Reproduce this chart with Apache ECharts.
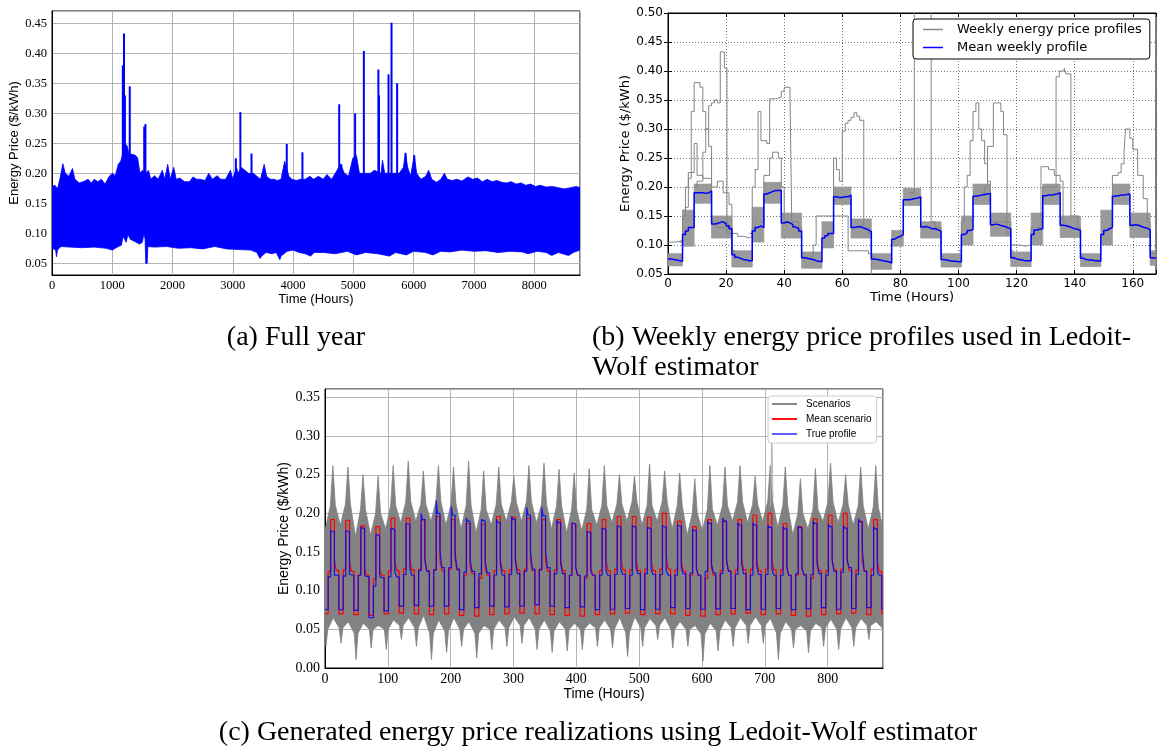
<!DOCTYPE html>
<html>
<head>
<meta charset="utf-8">
<script src="https://cdn.jsdelivr.net/npm/echarts@6/dist/echarts.min.js"></script>
<style>
  html, body { margin: 0; padding: 0; background: #ffffff; }
  #chart { width: 1167px; height: 748px; }
</style>
</head>
<body>
<div id="chart"></div>
<script>
// ---------------- (a) Full year of hourly prices ----------------
// Upper and lower edge of the hourly price band, [hour, $/kWh]
const fullYearUpper = [
  [0,0.178],[50,0.18],[90,0.174],[130,0.19],[180,0.216],[220,0.2],[280,0.195],[340,0.208],[380,0.19],
  [450,0.184],[520,0.186],[600,0.19],[650,0.184],[700,0.19],[760,0.186],[820,0.19],[880,0.182],[950,0.195],
  [1000,0.2],[1050,0.196],[1100,0.215],[1140,0.22],[1180,0.235],[1210,0.25],[1250,0.245],[1280,0.23],
  [1320,0.232],[1380,0.23],[1420,0.226],[1460,0.2],[1500,0.205],[1560,0.2],[1600,0.205],[1640,0.19],
  [1700,0.196],[1760,0.19],[1830,0.205],[1870,0.19],[1920,0.215],[1960,0.19],[2020,0.21],[2060,0.19],
  [2120,0.192],[2200,0.186],[2280,0.186],[2340,0.194],[2400,0.19],[2460,0.19],[2540,0.188],[2600,0.2],
  [2660,0.19],[2740,0.196],[2800,0.19],[2880,0.19],[2960,0.205],[3000,0.19],[3060,0.21],[3090,0.2],
  [3140,0.21],[3200,0.205],[3260,0.2],[3340,0.2],[3400,0.195],[3460,0.19],[3520,0.215],[3560,0.195],
  [3620,0.19],[3680,0.19],[3740,0.188],[3800,0.19],[3860,0.22],[3930,0.195],[3980,0.19],[4060,0.188],
  [4120,0.19],[4200,0.19],[4280,0.195],[4340,0.19],[4420,0.195],[4500,0.19],[4560,0.198],[4640,0.19],
  [4700,0.2],[4790,0.215],[4850,0.2],[4920,0.195],[4990,0.225],[5050,0.23],[5100,0.2],[5200,0.2],
  [5280,0.2],[5350,0.205],[5460,0.2],[5483,0.222],[5520,0.2],[5610,0.2],[5660,0.2],[5760,0.2],
  [5830,0.21],[5865,0.234],[5900,0.21],[5950,0.195],[6010,0.23],[6050,0.2],[6120,0.19],[6200,0.195],
  [6250,0.205],[6300,0.19],[6380,0.185],[6450,0.19],[6510,0.2],[6560,0.19],[6640,0.188],[6720,0.19],
  [6800,0.187],[6900,0.194],[6980,0.19],[7060,0.192],[7140,0.186],[7220,0.19],[7300,0.186],[7380,0.188],
  [7460,0.185],[7540,0.184],[7620,0.186],[7700,0.182],[7780,0.184],[7860,0.18],[7940,0.182],[8020,0.178],
  [8100,0.18],[8200,0.177],[8300,0.178],[8400,0.176],[8500,0.174],[8600,0.176],[8700,0.178],[8760,0.176]
];
const fullYearLower = [
  [0,0.075],[60,0.072],[75,0.061],[90,0.072],[150,0.078],[300,0.077],[500,0.076],[700,0.077],[900,0.075],
  [1000,0.072],[1100,0.078],[1150,0.08],[1180,0.095],[1230,0.085],[1260,0.098],[1300,0.09],[1380,0.086],
  [1450,0.082],[1500,0.085],[1525,0.1],[1545,0.09],[1555,0.05],[1580,0.05],[1590,0.078],[1700,0.077],
  [1900,0.078],[2100,0.075],[2300,0.076],[2500,0.074],[2700,0.078],[2900,0.074],[3100,0.073],[3300,0.072],
  [3400,0.068],[3450,0.058],[3480,0.062],[3550,0.068],[3650,0.066],[3720,0.068],[3780,0.056],[3800,0.062],
  [3900,0.07],[4000,0.072],[4100,0.068],[4200,0.066],[4290,0.062],[4350,0.068],[4500,0.068],[4700,0.066],
  [4900,0.07],[5050,0.064],[5200,0.068],[5400,0.066],[5600,0.062],[5700,0.068],[5880,0.064],[6000,0.07],
  [6200,0.068],[6320,0.064],[6450,0.07],[6600,0.069],[6800,0.072],[7000,0.07],[7200,0.071],[7400,0.068],
  [7600,0.07],[7800,0.069],[7900,0.066],[8050,0.07],[8200,0.068],[8290,0.063],[8400,0.068],[8570,0.063],
  [8650,0.068],[8760,0.072]
];
// Isolated price spikes, [hour, peak $/kWh]
const fullYearSpikes = [
  [1175,0.38],[1195,0.433],[1210,0.33],[1290,0.345],[1530,0.278],[1550,0.282],[3050,0.225],[3125,0.302],
  [3310,0.233],[3895,0.249],[4155,0.235],[4765,0.315],[4800,0.215],[5010,0.225],[5029,0.30],[5174,0.404],
  [5415,0.373],[5425,0.33],[5583,0.365],[5633,0.451],[5726,0.35],[5865,0.234],[6010,0.23]
];

// ---------------- (b) Weekly profiles ----------------
const weekEnd = 168;
// Start hour of each tariff-like block of the week
const weekBlockStarts = [0,5,9,15,22,29,33,39,46,53,57,63,70,77,81,87,94,101,105,111,118,125,129,135,142,149,153,159,166];
// Dense bundle of weekly profiles: lower / upper edge per block
const bundleLow  = [0.064,0.098,0.172,0.112,0.062,0.105,0.172,0.112,0.060,0.095,0.170,0.112,0.058,0.098,0.168,0.112,0.062,0.100,0.170,0.115,0.063,0.100,0.170,0.113,0.063,0.100,0.170,0.113,0.065];
const bundleHigh = [0.085,0.160,0.205,0.150,0.090,0.165,0.208,0.155,0.088,0.140,0.200,0.145,0.085,0.125,0.198,0.140,0.085,0.150,0.205,0.155,0.088,0.155,0.205,0.150,0.085,0.160,0.205,0.155,0.090];
// Mean weekly profile, hour 0..167
const meanWeeklyProfile = [
  0.076,0.075,0.074,0.073,0.072, 0.118,0.124,0.13,0.13, 0.19,0.19,0.19,0.189,0.19,0.193,
  0.136,0.137,0.139,0.14,0.137,0.133,0.128, 0.083,0.079,0.077,0.075,0.074,0.073,0.073,
  0.124,0.13,0.133,0.13, 0.188,0.19,0.192,0.194,0.194,0.194, 0.138,0.14,0.138,0.135,0.131,0.128,0.124,
  0.078,0.077,0.076,0.075,0.073,0.072,0.071,
  0.112,0.116,0.12,0.12, 0.183,0.182,0.182,0.183,0.183,0.186, 0.13,0.131,0.132,0.13,0.128,0.126,0.123,
  0.076,0.075,0.074,0.073,0.072,0.071,0.069,
  0.11,0.113,0.115,0.118, 0.178,0.178,0.179,0.18,0.181,0.183, 0.131,0.132,0.13,0.128,0.128,0.126,0.124,
  0.075,0.074,0.073,0.072,0.072,0.071,0.071,
  0.118,0.121,0.125,0.127, 0.184,0.185,0.186,0.187,0.188,0.189, 0.135,0.136,0.135,0.133,0.132,0.13,0.128,
  0.078,0.076,0.075,0.074,0.073,0.073,0.073,
  0.118,0.126,0.127,0.128, 0.185,0.186,0.186,0.187,0.188,0.19, 0.134,0.133,0.132,0.13,0.128,0.127,0.125,
  0.077,0.075,0.074,0.074,0.073,0.073,0.072,
  0.118,0.125,0.128,0.13, 0.184,0.185,0.186,0.186,0.187,0.188, 0.134,0.135,0.134,0.132,0.13,0.129,0.126,
  0.078,0.077
];
// Individual weeks that leave the bundle, [hour, $/kWh] held until the next point
const weeklyOutliers = [
  [[4,0.105],[5,0.15],[6,0.165],[7,0.215],[8,0.33],[9,0.38],[11,0.372],[12,0.33],[13,0.3],[14,0.27],[15,0.14],[17,0.13],[22,0.085],[23,0.085]],
  [[9,0.2],[10,0.21],[12,0.26],[13,0.3],[14,0.34],[15,0.345],[16,0.35],[17,0.345],[18,0.433],[19.4,0.405],[20.3,0.12],[22,0.09],[23,0.09]],
  [[5,0.16],[6,0.2],[7,0.225],[9,0.275],[10,0.22],[12,0.215],[15,0.2],[17,0.21],[19,0.19],[21,0.17],[22,0.09],[23,0.09]],
  [[0,0.105],[3,0.108],[5,0.12],[6,0.13]],
  [[21,0.13],[22,0.12],[24,0.115],[26,0.112],[28,0.115],[29,0.13],[30,0.14]],
  [[28,0.12],[29,0.2],[30,0.23],[31,0.33],[32,0.28],[34,0.275],[35,0.352],[37,0.355],[39,0.365],[40,0.372],[42,0.36],[42.6,0.14],[45,0.13],[46,0.08],[47,0.08]],
  [[32,0.14],[33,0.22],[35,0.25],[36,0.26],[38,0.25],[39,0.2],[40,0.14],[41,0.14]],
  [[55,0.12],[57,0.25],[58,0.23],[59,0.21],[60,0.296],[61,0.31],[62,0.315],[63,0.32],[64,0.328],[65,0.322],[66,0.315],[67.4,0.13],[69,0.12],[70,0.08],[71,0.08]],
  [[49,0.08],[50,0.1],[51,0.15],[62,0.09],[69,0.085],[70,0.04],[77,0.04]],
  [[83,0.19],[84.8,0.55],[90.6,0.14],[92,0.13],[94,0.08],[95,0.08]],
  [[100,0.09],[101,0.14],[102,0.2],[103,0.22],[104,0.28],[105,0.33],[106,0.345],[107,0.3],[108,0.28],[109,0.24],[110,0.21],[111,0.14],[118,0.08],[119,0.08]],
  [[108,0.19],[109,0.2],[110,0.27],[112,0.345],[114.6,0.33],[115.5,0.29],[116.7,0.12],[118,0.09],[119,0.09]],
  [[118,0.1],[119,0.1],[121,0.098],[123,0.1],[125,0.13],[126,0.13]],
  [[128,0.13],[129,0.2],[133.6,0.39],[134.7,0.4],[136.4,0.405],[137,0.395],[138.7,0.15],[141,0.13],[142,0.08],[143,0.08]],
  [[127,0.13],[128.4,0.235],[131,0.23],[133,0.22],[135,0.21],[136,0.14],[137,0.14]],
  [[152,0.13],[153,0.22],[155,0.225],[156,0.24],[157,0.26],[157.5,0.30],[159,0.284],[160,0.265],[161.7,0.22],[163.6,0.18],[165,0.14],[166,0.085],[168,0.085]]
];

// ---------------- (c) Generated realizations ----------------
const horizon = 888;
const dayCount = 37;
// Hour-of-day at which each block of a day starts: morning, peak, late peak, evening, late evening, night
const dayBlockHours = [5, 9, 11, 15, 18, 22];
// True price profile, block values per day
const blueFirstNight = 0.0755;
const blueMorning = [0.118,0.119,0.12,0.106,0.118,0.121,0.126,0.127,0.13,0.124,0.122,0.12,0.121,0.125,0.127,0.122,0.12,0.119,0.12,0.121,0.12,0.122,0.121,0.12,0.123,0.125,0.122,0.121,0.12,0.121,0.12,0.122,0.121,0.12,0.124,0.121,0.12];
const bluePeakA = [0.178,0.178,0.182,0.173,0.181,0.187,0.2,0.217,0.209,0.194,0.192,0.192,0.196,0.208,0.208,0.191,0.188,0.177,0.181,0.184,0.184,0.182,0.184,0.185,0.179,0.19,0.194,0.188,0.188,0.185,0.183,0.183,0.19,0.186,0.184,0.193,0.183];
const bluePeakB = [0.176,0.176,0.18,0.171,0.179,0.186,0.192,0.2,0.198,0.19,0.19,0.188,0.192,0.198,0.197,0.188,0.186,0.175,0.179,0.182,0.182,0.18,0.182,0.183,0.177,0.187,0.19,0.185,0.185,0.182,0.18,0.181,0.187,0.183,0.181,0.189,0.18];
const blueEveA = [0.12,0.121,0.119,0.118,0.125,0.13,0.14,0.152,0.15,0.14,0.138,0.135,0.138,0.15,0.15,0.135,0.13,0.125,0.126,0.127,0.13,0.128,0.126,0.13,0.128,0.135,0.14,0.135,0.132,0.13,0.13,0.128,0.135,0.14,0.14,0.155,0.125];
const blueEveB = [0.12,0.12,0.118,0.116,0.118,0.12,0.125,0.13,0.128,0.125,0.123,0.12,0.122,0.128,0.13,0.122,0.12,0.12,0.12,0.121,0.122,0.121,0.12,0.122,0.12,0.123,0.125,0.122,0.121,0.12,0.12,0.121,0.122,0.125,0.13,0.125,0.12];
const blueNight = [0.0755,0.0745,0.065,0.0738,0.08,0.081,0.08,0.08,0.0755,0.078,0.08,0.079,0.08,0.082,0.08,0.078,0.079,0.0755,0.076,0.077,0.0755,0.076,0.078,0.077,0.076,0.0765,0.077,0.0755,0.076,0.077,0.0755,0.0765,0.078,0.076,0.077,0.078,0.076];
// Mean of the generated scenarios, block values per day
const redFirstNight = 0.07;
const redMorning = [0.125,0.127,0.12,0.115,0.126,0.128,0.128,0.127,0.128,0.12,0.116,0.126,0.127,0.128,0.128,0.127,0.12,0.116,0.126,0.128,0.127,0.128,0.128,0.127,0.12,0.116,0.126,0.127,0.128,0.128,0.127,0.12,0.116,0.126,0.128,0.127,0.128];
const redPeak = [0.192,0.191,0.184,0.183,0.194,0.194,0.192,0.196,0.192,0.187,0.186,0.196,0.195,0.194,0.192,0.192,0.187,0.187,0.192,0.196,0.196,0.195,0.2,0.19,0.183,0.192,0.19,0.192,0.198,0.2,0.187,0.183,0.193,0.198,0.2,0.19,0.192];
const redEveA = [0.14,0.138,0.13,0.128,0.14,0.142,0.14,0.14,0.142,0.132,0.13,0.14,0.142,0.14,0.138,0.14,0.13,0.13,0.14,0.142,0.14,0.14,0.145,0.138,0.13,0.13,0.14,0.142,0.14,0.142,0.13,0.13,0.14,0.142,0.14,0.14,0.138];
const redEveB = [0.126,0.125,0.12,0.12,0.126,0.127,0.126,0.126,0.127,0.122,0.12,0.126,0.127,0.126,0.125,0.126,0.12,0.12,0.126,0.127,0.126,0.126,0.128,0.125,0.12,0.12,0.126,0.127,0.126,0.127,0.12,0.12,0.126,0.127,0.126,0.126,0.125];
const redNight = [0.07,0.069,0.068,0.07,0.071,0.07,0.069,0.07,0.068,0.067,0.069,0.07,0.071,0.07,0.069,0.068,0.067,0.069,0.07,0.071,0.069,0.07,0.07,0.068,0.067,0.069,0.07,0.071,0.069,0.07,0.068,0.067,0.069,0.07,0.071,0.069,0.07];
// Spread of the scenarios. Upper edge: night trough, shoulder, daily tip (hour-of-day offsets below)
const scenTopHours = [0.5, 8.5, 12.5, 16.5];
const scenTopNight = [0.18,0.185,0.17,0.172,0.18,0.188,0.19,0.19,0.185,0.18,0.175,0.185,0.19,0.19,0.188,0.18,0.175,0.178,0.185,0.188,0.19,0.185,0.19,0.18,0.172,0.178,0.185,0.19,0.188,0.19,0.182,0.172,0.18,0.19,0.188,0.185,0.18,0.18];
const scenTopShoulder = [0.21,0.212,0.205,0.2,0.21,0.215,0.212,0.215,0.212,0.21,0.205,0.212,0.215,0.215,0.212,0.21,0.205,0.205,0.21,0.212,0.215,0.21,0.215,0.21,0.2,0.205,0.21,0.215,0.212,0.215,0.21,0.2,0.205,0.215,0.212,0.21,0.208];
const scenTopPeak = [0.262,0.26,0.25,0.248,0.262,0.268,0.255,0.262,0.26,0.268,0.255,0.26,0.248,0.262,0.265,0.257,0.252,0.258,0.262,0.25,0.248,0.264,0.255,0.252,0.245,0.262,0.26,0.262,0.248,0.262,0.26,0.245,0.258,0.265,0.25,0.26,0.262];
// Lower edge: shoulder before the night tip, night tip, shoulder after, daytime crest
const scenBottomHours = [-1.5, 1.5, 4.5, 13];
const scenBotShoulder = [0.05,0.052,0.045,0.05,0.05,0.055,0.052,0.045,0.048,0.05,0.045,0.05,0.052,0.055,0.05,0.048,0.05,0.05,0.052,0.05,0.046,0.052,0.055,0.05,0.05,0.044,0.048,0.052,0.055,0.055,0.045,0.05,0.048,0.052,0.05,0.052,0.055,0.052];
const scenBotNight = [0.028,0.032,0.011,0.026,0.024,0.037,0.028,0.011,0.02,0.028,0.013,0.024,0.028,0.032,0.024,0.02,0.022,0.024,0.028,0.026,0.015,0.028,0.037,0.026,0.028,0.009,0.022,0.028,0.032,0.032,0.011,0.026,0.02,0.028,0.024,0.028,0.037,0.03];
const scenBotDay = [0.065,0.06,0.058,0.055,0.062,0.065,0.068,0.062,0.065,0.06,0.055,0.062,0.066,0.065,0.062,0.06,0.058,0.058,0.062,0.065,0.066,0.064,0.065,0.06,0.055,0.058,0.062,0.065,0.066,0.064,0.06,0.055,0.058,0.063,0.065,0.064,0.06];
const scenarioOutlier = [[709,0.21],[711,0.302],[713,0.22]];

// ---------------- helpers ----------------
const SERIF = '"Liberation Serif", "DejaVu Serif", serif';
const SANS = '"Liberation Sans", "DejaVu Sans", sans-serif';
const VERA = '"DejaVu Sans", sans-serif';
const LINE_ICON = 'path://M0 0H40V3H0Z';

function polygonSeries(name, upper, lower, xi, yi, fill, z) {
  const ring = upper.concat(lower.slice().reverse());
  return {
    name, type: 'custom', xAxisIndex: xi, yAxisIndex: yi, clip: true, z, silent: true,
    itemStyle: { color: fill },
    data: [ring[0]],
    renderItem: (params, api) => ({
      type: 'polygon',
      shape: { points: ring.map(p => api.coord(p)) },
      style: { fill: fill, stroke: fill, lineWidth: 0.8 }
    })
  };
}

function stepLine(name, data, xi, yi, color, width, z, opacity) {
  return {
    name, type: 'line', xAxisIndex: xi, yAxisIndex: yi, data, step: 'end',
    symbol: 'none', showSymbol: false, clip: true, z, silent: true,
    lineStyle: { color, width, opacity: opacity == null ? 1 : opacity },
    itemStyle: { color }
  };
}

// (b) bundle polygon from block edges
const bundleUpper = [], bundleLower = [];
weekBlockStarts.forEach((s, i) => {
  const e = i + 1 < weekBlockStarts.length ? weekBlockStarts[i + 1] : weekEnd;
  bundleUpper.push([s, bundleHigh[i]], [e, bundleHigh[i]]);
  bundleLower.push([s, bundleLow[i]], [e, bundleLow[i]]);
});
const meanWeeklyData = meanWeeklyProfile.map((v, h) => [h, v]);
meanWeeklyData.push([weekEnd, meanWeeklyProfile[meanWeeklyProfile.length - 1]]);

// (c) daily block step lines
function dailySteps(firstNight, blocks) {
  const pts = [[0, firstNight]];
  for (let d = 0; d < dayCount; d++) {
    dayBlockHours.forEach((off, k) => pts.push([24 * d + off, blocks[k][d]]));
  }
  pts.push([horizon, blocks[blocks.length - 1][dayCount - 1]]);
  return pts;
}
const trueProfileData = dailySteps(blueFirstNight, [blueMorning, bluePeakA, bluePeakB, blueEveA, blueEveB, blueNight]);
const meanScenarioData = dailySteps(redFirstNight, [redMorning, redPeak, redPeak, redEveA, redEveB, redNight]);

// (c) outline of the scenario cloud
const scenUpper = [[0, scenTopNight[0]]];
const scenLower = [[0, scenBotShoulder[0]]];
for (let d = 0; d <= dayCount; d++) {
  const t0 = 24 * d;
  scenUpper.push([t0 + scenTopHours[0], scenTopNight[d]]);
  if (d < dayCount) {
    scenUpper.push([t0 + scenTopHours[1], scenTopShoulder[d]],
                   [t0 + scenTopHours[2], scenTopPeak[d]],
                   [t0 + scenTopHours[3], scenTopShoulder[d]]);
  }
  if (d > 0) scenLower.push([t0 + scenBottomHours[0], scenBotShoulder[d]]);
  scenLower.push([t0 + scenBottomHours[1], scenBotNight[d]],
                 [t0 + scenBottomHours[2], scenBotShoulder[d]]);
  if (d < dayCount) scenLower.push([t0 + scenBottomHours[3], scenBotDay[d]]);
}

// ---------------- axes ----------------
const onFifty = v => Math.abs(v * 20 - Math.round(v * 20)) < 1e-6;

function boxedValueAxis(extra) {
  return Object.assign({
    type: 'value',
    axisLine: { show: true, lineStyle: { color: '#000', width: 1 } },
    axisTick: { show: false },
    splitLine: { show: true, lineStyle: { color: '#b4b4b4', width: 1 } },
    axisLabel: { color: '#000', fontFamily: SERIF, fontSize: 12 },
    nameTextStyle: { color: '#000', fontFamily: SANS, fontSize: 13 },
    nameLocation: 'middle'
  }, extra);
}

const chart = echarts.init(document.getElementById('chart'), null, { renderer: 'canvas' });

const option = {
  animation: false,
  backgroundColor: '#ffffff',
  grid: [
    { left: 52, top: 11, width: 528, height: 264, show: true, borderColor: '#000', borderWidth: 1, backgroundColor: 'transparent', containLabel: false, outerBoundsMode: 'none' },
    { left: 668, top: 13, width: 488, height: 261, show: true, borderColor: '#000', borderWidth: 1, backgroundColor: 'transparent', containLabel: false, outerBoundsMode: 'none' },
    { left: 325, top: 389, width: 558, height: 279, show: true, borderColor: '#000', borderWidth: 1, backgroundColor: 'transparent', containLabel: false, outerBoundsMode: 'none' }
  ],
  xAxis: [
    boxedValueAxis({
      gridIndex: 0, min: 0, max: 8760, interval: 1000,
      name: 'Time (Hours)', nameGap: 16,
      axisLabel: { color: '#000', fontFamily: SERIF, fontSize: 12.5, margin: 4, formatter: v => (v % 1000 === 0 ? String(v) : '') }
    }),
    {
      type: 'value', gridIndex: 1, min: 0, max: weekEnd, interval: 20,
      name: 'Time (Hours)', nameLocation: 'middle', nameGap: 17,
      nameTextStyle: { color: '#000', fontFamily: VERA, fontSize: 13 },
      axisLine: { show: true, lineStyle: { color: '#000', width: 1 } },
      axisTick: { show: true, inside: true, length: 4, lineStyle: { color: '#000' } },
      splitLine: { show: true, lineStyle: { color: '#555', width: 0.8, type: [1, 2] } },
      axisLabel: { color: '#000', fontFamily: VERA, fontSize: 12, margin: 4, formatter: v => (v % 20 === 0 ? String(v) : '') }
    },
    boxedValueAxis({
      gridIndex: 2, min: 0, max: horizon, interval: 100,
      name: 'Time (Hours)', nameGap: 17,
      nameTextStyle: { color: '#000', fontFamily: SANS, fontSize: 14 },
      axisLabel: { color: '#000', fontFamily: SERIF, fontSize: 14, margin: 4, formatter: v => (v % 100 === 0 ? String(v) : '') }
    }),
    {
      type: 'value', gridIndex: 1, position: 'top', min: 0, max: weekEnd, interval: 20,
      axisLine: { show: true, lineStyle: { color: '#000' } },
      axisTick: { show: true, inside: true, length: 4, lineStyle: { color: '#000' } },
      axisLabel: { show: false }, splitLine: { show: false }
    }
  ],
  yAxis: [
    boxedValueAxis({
      gridIndex: 0, min: 0.0305, max: 0.4705, splitNumber: 9,
      name: 'Energy Price ($/kWh)', nameGap: 30,
      axisLabel: { color: '#000', fontFamily: SERIF, fontSize: 12.5, margin: 5, formatter: v => (onFifty(v) ? v.toFixed(2) : '') }
    }),
    {
      type: 'value', gridIndex: 1, min: 0.05, max: 0.5, interval: 0.05,
      name: 'Energy Price ($/kWh)', nameLocation: 'middle', nameGap: 34,
      nameTextStyle: { color: '#000', fontFamily: VERA, fontSize: 13 },
      axisLine: { show: true, lineStyle: { color: '#000', width: 1 } },
      axisTick: { show: true, inside: true, length: 4, lineStyle: { color: '#000' } },
      splitLine: { show: true, lineStyle: { color: '#555', width: 0.8, type: [1, 2] } },
      axisLabel: { color: '#000', fontFamily: VERA, fontSize: 12, margin: 5, formatter: v => v.toFixed(2) }
    },
    boxedValueAxis({
      gridIndex: 2, min: 0, max: 0.361, interval: 0.05,
      name: 'Energy Price ($/kWh)', nameGap: 33,
      nameTextStyle: { color: '#000', fontFamily: SANS, fontSize: 14 },
      axisLabel: { color: '#000', fontFamily: SERIF, fontSize: 14, margin: 5, formatter: v => (onFifty(v) ? v.toFixed(2) : '') }
    }),
    {
      type: 'value', gridIndex: 1, position: 'right', min: 0.05, max: 0.5, interval: 0.05,
      axisLine: { show: true, lineStyle: { color: '#000' } },
      axisTick: { show: true, inside: true, length: 4, lineStyle: { color: '#000' } },
      axisLabel: { show: false }, splitLine: { show: false }
    }
  ],
  legend: [
    {
      left: 913, top: 19, orient: 'vertical',
      padding: [4, 8, 5, 10], itemGap: 5, itemWidth: 20, itemHeight: 12,
      backgroundColor: '#ffffff', borderColor: '#000', borderWidth: 1, borderRadius: 3,
      textStyle: { fontFamily: VERA, fontSize: 13, color: '#000', padding: [0, 0, 0, 9] },
      selectedMode: false,
      data: [
        { name: 'Weekly energy price profiles', icon: LINE_ICON, itemStyle: { color: '#8a8a8a' } },
        { name: 'Mean weekly profile', icon: LINE_ICON, itemStyle: { color: '#0000ff' } }
      ]
    },
    {
      left: 768, top: 396, orient: 'vertical',
      padding: [3, 5, 4, 4], itemGap: 5, itemWidth: 25, itemHeight: 11,
      backgroundColor: '#ffffff', borderColor: '#cccccc', borderWidth: 1, borderRadius: 3,
      textStyle: { fontFamily: SANS, fontSize: 10, color: '#000', padding: [0, 0, 0, 4] },
      selectedMode: false,
      data: [
        { name: 'Scenarios', icon: LINE_ICON, itemStyle: { color: '#808080' } },
        { name: 'Mean scenario', icon: LINE_ICON, itemStyle: { color: '#ff0000' } },
        { name: 'True profile', icon: LINE_ICON, itemStyle: { color: '#5555ff' } }
      ]
    }
  ],
  series: [
    // (a)
    polygonSeries('Hourly price', fullYearUpper, fullYearLower, 0, 0, '#0000ff', 2),
    {
      name: 'Price spikes', type: 'custom', xAxisIndex: 0, yAxisIndex: 0, clip: true, z: 3, silent: true,
      data: fullYearSpikes,
      renderItem: (params, api) => {
        const top = api.coord([api.value(0), api.value(1)]);
        const base = api.coord([api.value(0), 0.17]);
        return { type: 'rect', shape: { x: top[0] - 1, y: top[1], width: 2, height: base[1] - top[1] }, style: { fill: '#0000ff' } };
      }
    },
    // (b)
    ...weeklyOutliers.map(tr => stepLine('Weekly energy price profiles', tr, 1, 1, '#848484', 1, 3)),
    polygonSeries('Weekly energy price profiles', bundleUpper, bundleLower, 1, 1, '#9a9a9a', 2),
    stepLine('Mean weekly profile', meanWeeklyData, 1, 1, '#0000ff', 1.5, 5),
    // (c)
    polygonSeries('Scenarios', scenUpper, scenLower, 2, 2, '#828282', 2),
    {
      name: 'Scenarios', type: 'line', xAxisIndex: 2, yAxisIndex: 2, data: scenarioOutlier,
      symbol: 'none', clip: true, z: 2, silent: true, lineStyle: { color: '#b0b0b0', width: 1 }
    },
    stepLine('Mean scenario', meanScenarioData, 2, 2, '#ff0000', 1.2, 4),
    stepLine('True profile', trueProfileData, 2, 2, '#0000ff', 1.2, 5, 0.85)
  ],
  graphic: [
    { type: 'text', style: { text: '(a) Full year', x: 296, y: 338, align: 'center', verticalAlign: 'middle', fontFamily: SERIF, fontSize: 28, fill: '#000' } },
    { type: 'text', style: { text: '(b) Weekly energy price profiles used in Ledoit-', x: 592, y: 338, align: 'left', verticalAlign: 'middle', fontFamily: SERIF, fontSize: 28, fill: '#000' } },
    { type: 'text', style: { text: 'Wolf estimator', x: 592, y: 368, align: 'left', verticalAlign: 'middle', fontFamily: SERIF, fontSize: 28, fill: '#000' } },
    { type: 'text', style: { text: '(c) Generated energy price realizations using Ledoit-Wolf estimator', x: 598, y: 733, align: 'center', verticalAlign: 'middle', fontFamily: SERIF, fontSize: 28, fill: '#000' } }
  ]
};

chart.setOption(option);
</script>
</body>
</html>
